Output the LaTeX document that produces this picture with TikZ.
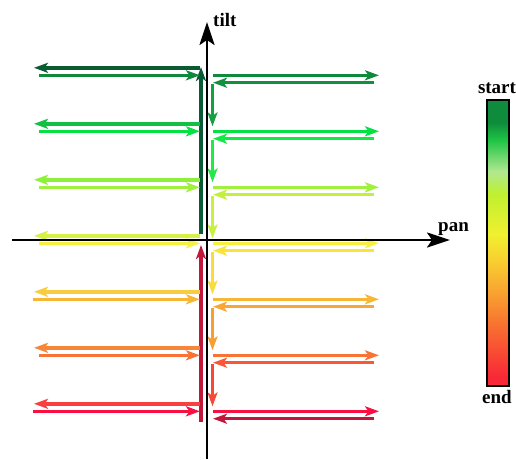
\documentclass[tikz,border=0pt]{standalone}
\usepackage{fontspec}
\setmainfont{Liberation Serif}
\usetikzlibrary{arrows.meta}

% colours of the scan moves, row by row (l: outward left, r: rightward, b: return, d: step down)
\definecolor{l0}{HTML}{0B5A34}\definecolor{r0}{HTML}{0F8A3D}\definecolor{b0}{HTML}{12903F}\definecolor{d0}{HTML}{15A042}
\definecolor{l1}{HTML}{14C043}\definecolor{r1}{HTML}{05E043}\definecolor{b1}{HTML}{10EA45}\definecolor{d1}{HTML}{22E848}
\definecolor{l2}{HTML}{8EF03A}\definecolor{r2}{HTML}{A2F03E}\definecolor{b2}{HTML}{C2F03E}\definecolor{d2}{HTML}{C8F03E}
\definecolor{l3}{HTML}{D6F045}\definecolor{r3}{HTML}{F6F040}\definecolor{b3}{HTML}{F8E43A}\definecolor{d3}{HTML}{F8DC3C}
\definecolor{l4}{HTML}{F8CC3E}\definecolor{r4}{HTML}{F8B636}\definecolor{b4}{HTML}{F8A636}\definecolor{d4}{HTML}{F89E32}
\definecolor{l5}{HTML}{F88638}\definecolor{r5}{HTML}{F87436}\definecolor{b5}{HTML}{F85836}\definecolor{d5}{HTML}{F84836}
\definecolor{l6}{HTML}{F84040}\definecolor{r6}{HTML}{F81042}\definecolor{b6}{HTML}{C0183A}\definecolor{d6}{HTML}{C0183A}
\definecolor{upgreen}{HTML}{0B5A37}
\definecolor{upred}{HTML}{C0183A}

% stops of the legend bar
\definecolor{s100}{HTML}{0B843A}
\definecolor{s92}{HTML}{0E8C3C}
\definecolor{s86}{HTML}{1EC444}
\definecolor{s75}{HTML}{B0E890}
\definecolor{s67}{HTML}{C0F030}
\definecolor{s53}{HTML}{F0F030}
\definecolor{s44}{HTML}{F8D030}
\definecolor{s32}{HTML}{F8A030}
\definecolor{s21}{HTML}{F87030}
\definecolor{s3}{HTML}{F82838}

% colour scale of the legend bar; TikZ fits the node onto 25bp..75bp
\pgfdeclareverticalshading{timebar}{100bp}{%
  color(0bp)=(s3); color(26.5bp)=(s3); color(35.5bp)=(s21); color(41bp)=(s32);
  color(47bp)=(s44); color(51.5bp)=(s53); color(58.5bp)=(s67); color(62.5bp)=(s75);
  color(68bp)=(s86); color(71bp)=(s92); color(100bp)=(s100)}

\begin{document}
\begin{tikzpicture}[x=1pt,y=-1pt,
  move/.style={line width=3.5pt,-{Stealth[length=14pt,width=10pt,inset=3.5pt]}},
  axisline/.style={line width=2.4pt,-{Stealth[length=23pt,width=15pt,inset=5pt]}},
  lbl/.style={font=\fontsize{19}{21}\selectfont\bfseries,inner sep=0pt}]
\useasboundingbox (0,0) rectangle (516,459);

% return to the centre and first climb to the top row
\coordinate (upA) at (201,234); \coordinate (upB) at (201,67);
\coordinate (endA) at (201,422); \coordinate (endB) at (201,245);
\draw[move,upgreen] (upA) -- (upB);
\draw[move,upred] (endA) -- (endB);

% the seven scan rows
\foreach \i/\xs in {0/39,1/39,2/39,3/39,4/33,5/39,6/33}{
  \pgfmathsetmacro\yr{75.3+56*\i}
  \pgfmathsetmacro\yl{\yr-7.5}
  \pgfmathsetmacro\yb{\yr+7.4}
  \pgfmathsetmacro\yda{\yb+1.5}
  \pgfmathsetmacro\ydb{\yr+51}
  \coordinate (la\i) at (200,\yl);  \coordinate (lb\i) at (34,\yl);
  \coordinate (ra\i) at (\xs,\yr);  \coordinate (rb\i) at (200,\yr);
  \coordinate (rc\i) at (213,\yr);  \coordinate (rd\i) at (379,\yr);
  \coordinate (ba\i) at (374,\yb);  \coordinate (bb\i) at (213,\yb);
  \draw[move,l\i] (la\i) -- (lb\i);
  \draw[move,r\i] (ra\i) -- (rb\i);
  \draw[move,r\i] (rc\i) -- (rd\i);
  \draw[move,b\i] (ba\i) -- (bb\i);
  \ifnum\i<6
    \coordinate (da\i) at (212.5,\yda); \coordinate (db\i) at (212.5,\ydb);
    \draw[move,d\i] (da\i) -- (db\i);
  \fi
}

% axes
\coordinate (tiltfoot) at (207,459); \coordinate (tilttip) at (207,22);
\coordinate (panfoot) at (12,240);   \coordinate (pantip) at (450,240);
\draw[axisline] (tiltfoot) -- (tilttip);
\draw[axisline] (panfoot) -- (pantip);
\node[lbl,anchor=base west] (tilt) at (213,26) {tilt};
\node[lbl,anchor=base west] (pan) at (438,231) {pan};

% legend bar
\node[draw,line width=1.5pt,shading=timebar,minimum width=22pt,minimum height=286pt,
      inner sep=0pt,anchor=north west] (bar) at (486,99) {};
\node[lbl,anchor=base] (start) at (497,93) {start};
\node[lbl,anchor=base] (end) at (497,403) {end};
\end{tikzpicture}
\end{document}
